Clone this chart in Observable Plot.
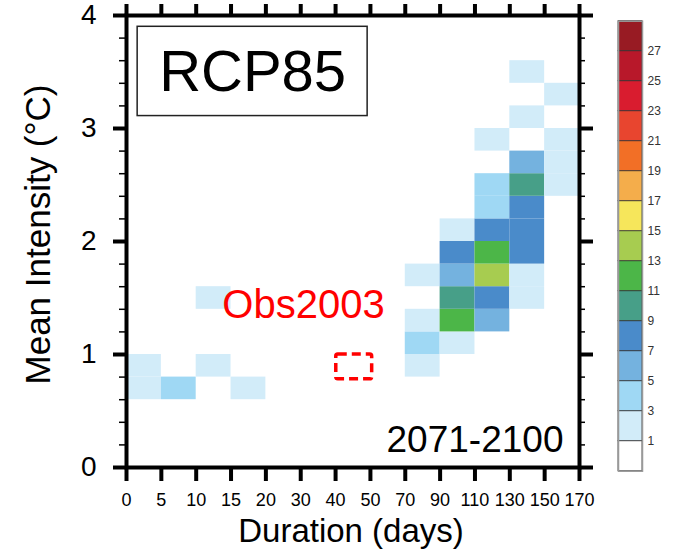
<!DOCTYPE html>
<html>
<head>
<meta charset="utf-8">
<script src="https://cdn.jsdelivr.net/npm/d3@7"></script>
<script src="https://cdn.jsdelivr.net/npm/@observablehq/plot@0.6"></script>
<style>
  html, body { margin: 0; padding: 0; background: #fff; }
  #wrap { position: relative; width: 677px; height: 549px; overflow: hidden; font-family: "Liberation Sans", Arial, Helvetica, sans-serif; }
  #main, #bar { position: absolute; top: 0; }
  #main { left: 0; }
  #bar { left: 600px; }
</style>
</head>
<body>
<div id="wrap"><div id="main"></div><div id="bar"></div></div>
<script>
// Duration bin edges (tick labels on x)
const durationTicks = ["0","5","10","15","20","30","40","50","70","90","110","130","150","170"];
// Mean intensity tick labels
const intensityTicks = [0, 1, 2, 3, 4];
const intensityMinorTicks = [0.2,0.4,0.6,0.8,1.2,1.4,1.6,1.8,2.2,2.4,2.6,2.8,3.2,3.4,3.6,3.8];

// Histogram cells: start of duration bin, lower edge of intensity bin (0.2 wide), count
const cellDurStart = ["0","0","5","10","10","15",
  "70","70","70","70",
  "90","90","90","90","90","90",
  "110","110","110","110","110","110","110","110",
  "130","130","130","130","130","130","130","130","130",
  "150","150","150","150"];
const cellIntensity = [0.6,0.8,0.6,0.8,1.4,0.6,
  0.8,1.0,1.2,1.6,
  1.0,1.2,1.4,1.6,1.8,2.0,
  1.2,1.4,1.6,1.8,2.0,2.2,2.4,2.8,
  1.4,1.6,1.8,2.0,2.2,2.4,2.6,3.0,3.4,
  2.4,2.6,2.8,3.2];
const cellCount = [2,2,4,2,2,2,
  2,4,2,2,
  2,12,10,6,8,2,
  6,8,14,12,8,4,4,2,
  2,2,8,8,8,10,6,2,2,
  2,2,2,2];

// Colour bar
const colorThresholds = [1,3,5,7,9,11,13,15,17,19,21,23,25,27];
const colorPalette = ["#ffffff","#d2ecf9","#9fd8f4","#74b2df","#4a8bca","#479f88","#4cb648","#a7cc50",
  "#f6e65b","#f4ad4b","#f26f26","#e8452f","#d91c2f","#b8182a","#981b23"];
const colorBarLabels = ["1","3","5","7","9","11","13","15","17","19","21","23","25","27"];
const colorBarLevels = [0,2,4,6,8,10,12,14,16,18,20,22,24,26,28];

const cells = cellCount.map((c, i) => ({
  xi: durationTicks.indexOf(cellDurStart[i]),
  y: cellIntensity[i],
  count: c
}));

const font = '"Liberation Sans", Arial, Helvetica, sans-serif';
const colorScale = {type: "threshold", domain: colorThresholds, range: colorPalette};

const main = Plot.plot({
  width: 677,
  height: 549,
  marginLeft: 126,
  marginRight: 98,
  marginTop: 15,
  marginBottom: 82,
  style: {fontFamily: font, background: "white", color: "black"},
  x: {domain: [0, 13]},
  y: {domain: [0, 4]},
  color: colorScale,
  marks: [
    Plot.rect(cells, {x1: "xi", x2: d => d.xi + 1, y1: "y", y2: d => d.y + 0.2, fill: "count", inset: 0}),
    // RCP85 box
    Plot.rect([0], {x1: 0.32, x2: 6.92, y1: 3.11, y2: 3.9, fill: "white", stroke: "#222", strokeWidth: 1.5}),
    Plot.text(["RCP85"], {x: 3.62, y: 3.5, fontSize: 58, fill: "black", textAnchor: "middle", lineAnchor: "middle"}),
    // Obs2003 annotation
    Plot.text(["Obs2003"], {x: 5.08, y: 1.44, fontSize: 40, fill: "#ff0000", textAnchor: "middle", lineAnchor: "middle"}),
    Plot.rect([0], {x1: 6.02, x2: 7.05, y1: 0.78, y2: 1.0, fill: "none", stroke: "#ff0000", strokeWidth: 3.5, strokeDasharray: "9,5", rx: 2}),
    Plot.text(["2071-2100"], {frameAnchor: "bottom-right", dx: -16, dy: -27, fontSize: 37, fill: "black", textAnchor: "end", lineAnchor: "middle"}),
    // axes
    Plot.axisX({anchor: "bottom", ticks: d3.range(14), tickFormat: i => durationTicks[i], tickSize: 14, strokeWidth: 4, tickPadding: 12, fontSize: 18, label: null}),
    Plot.axisX({anchor: "top", ticks: d3.range(14), tickFormat: () => "", tickSize: 12, strokeWidth: 4, label: null}),
    Plot.axisY({anchor: "left", ticks: intensityTicks, tickFormat: d => String(d), tickSize: 13, strokeWidth: 4, tickPadding: 17, fontSize: 28, label: null}),
    Plot.axisY({anchor: "left", ticks: intensityMinorTicks, tickFormat: () => "", tickSize: 7, strokeWidth: 1.5, label: null}),
    Plot.axisY({anchor: "right", ticks: intensityTicks, tickFormat: () => "", tickSize: 13, strokeWidth: 4, label: null}),
    Plot.axisY({anchor: "right", ticks: intensityMinorTicks, tickFormat: () => "", tickSize: 5, strokeWidth: 1.5, label: null}),
    Plot.frame({strokeWidth: 4, stroke: "black"}),
    // axis titles
    Plot.text(["Mean Intensity (°C)"], {frameAnchor: "left", dx: -88, dy: -7, rotate: -90, fontSize: 35, fill: "black", textAnchor: "middle", lineAnchor: "middle"}),
    Plot.text(["Duration (days)"], {frameAnchor: "bottom", dx: -2, dy: 63.5, fontSize: 33, fill: "black", textAnchor: "middle", lineAnchor: "middle"})
  ]
});
document.getElementById("main").appendChild(main);

const bar = Plot.plot({
  width: 77,
  height: 549,
  marginLeft: 18,
  marginRight: 35,
  marginTop: 20.7,
  marginBottom: 78.3,
  style: {fontFamily: font, background: "transparent", color: "#333"},
  x: {domain: [0, 1], axis: null},
  y: {domain: [0, 15]},
  color: colorScale,
  marks: [
    Plot.rect(colorBarLevels, {x1: 0, x2: 1, y1: (d, i) => i, y2: (d, i) => i + 1, fill: d => d, stroke: "#333", strokeWidth: 0.8, inset: 0}),
    Plot.frame({stroke: "#999", strokeWidth: 1.5}),
    Plot.axisY({anchor: "right", ticks: d3.range(1, 15), tickFormat: i => colorBarLabels[i - 1], tickSize: 0, tickPadding: 5, fontSize: 12, label: null})
  ]
});
document.getElementById("bar").appendChild(bar);
</script>
</body>
</html>
